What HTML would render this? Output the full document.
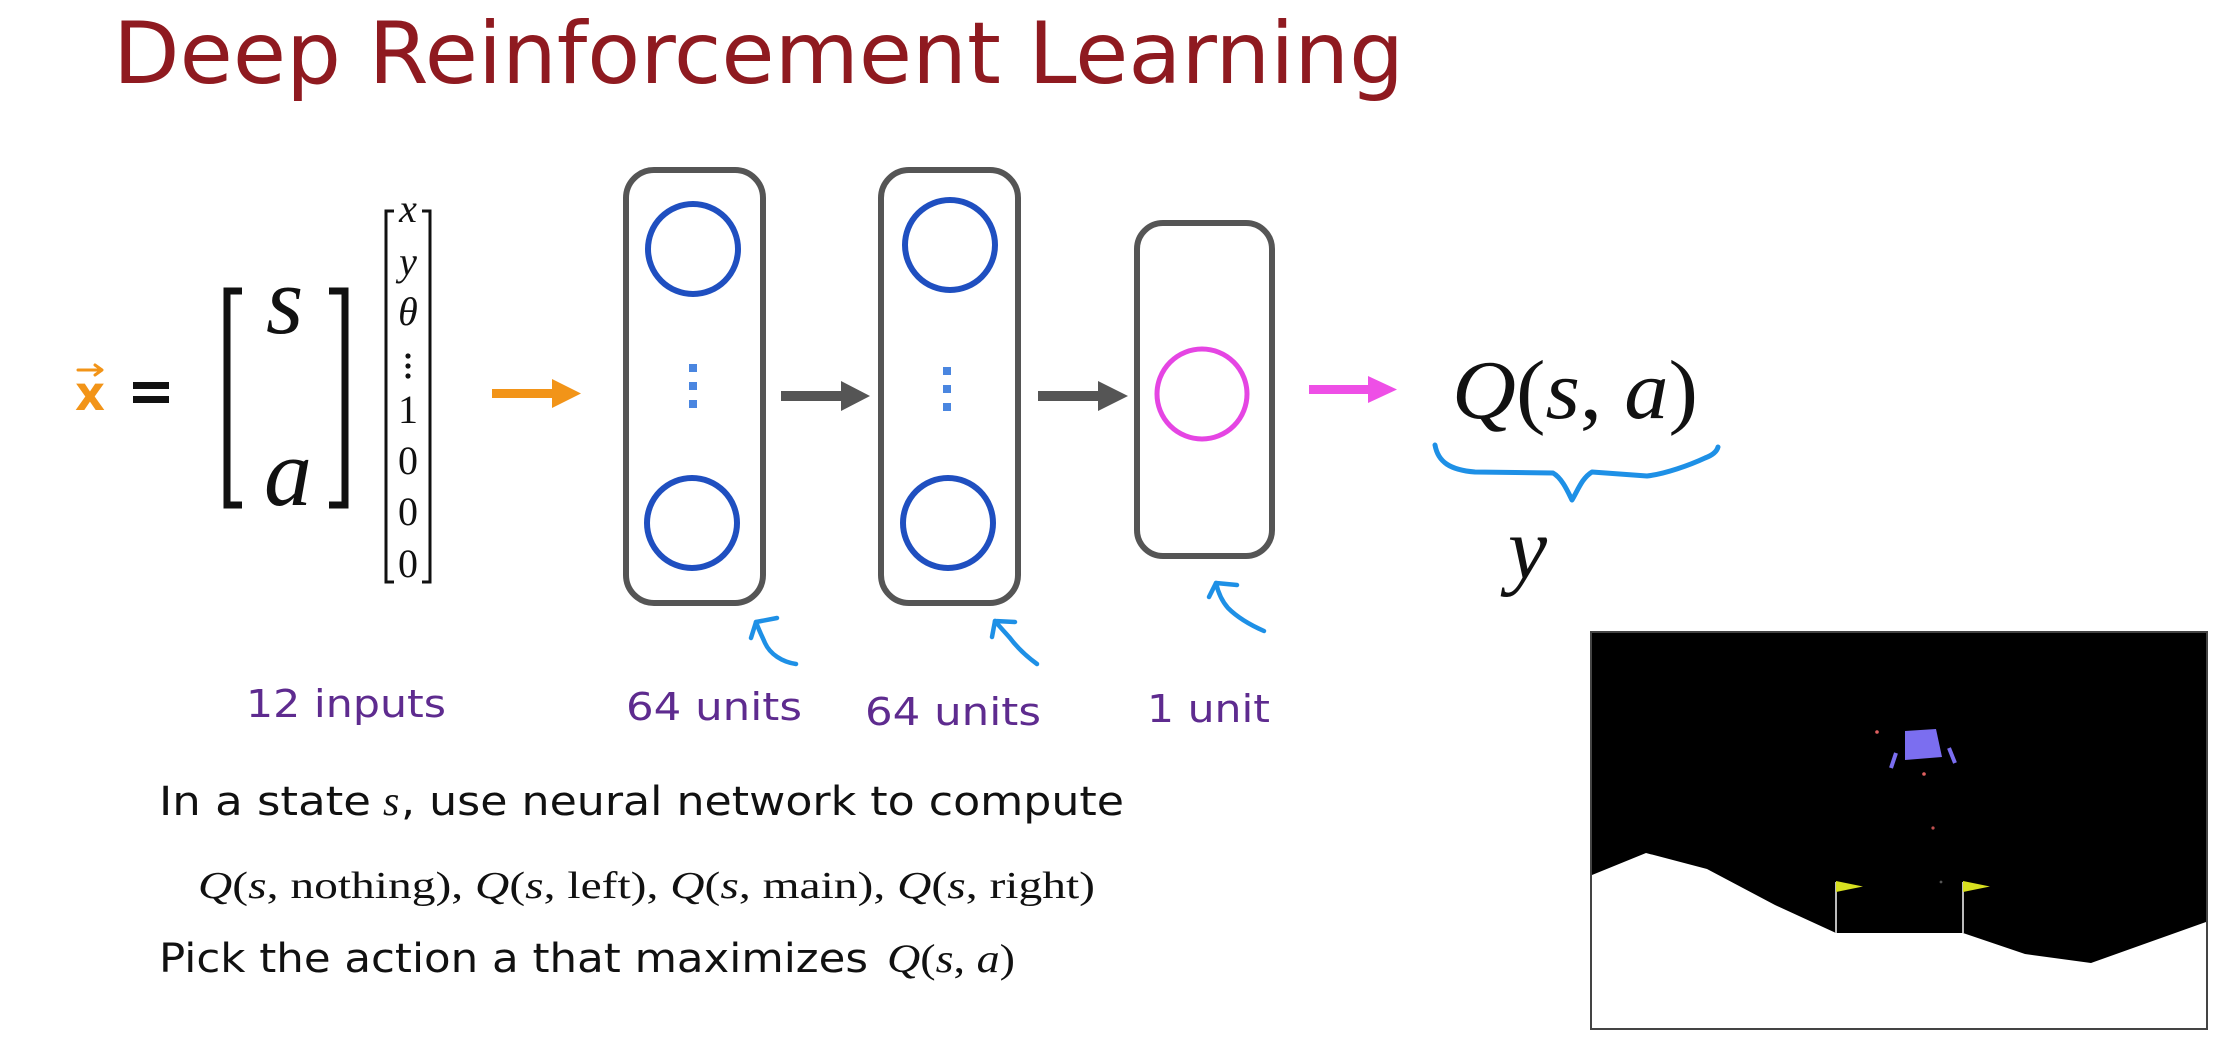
<!DOCTYPE html>
<html><head><meta charset="utf-8"><style>
html,body{margin:0;padding:0;background:#fff;}
svg{display:block;}
</style></head><body>
<svg width="2240" height="1037" viewBox="0 0 2240 1037" xmlns="http://www.w3.org/2000/svg">
<rect width="2240" height="1037" fill="#fff"/>
<!-- Title -->
<text x="113" y="83" font-family="'DejaVu Sans', 'Liberation Sans', sans-serif" font-size="86" fill="#8f1a20" textLength="1291" lengthAdjust="spacingAndGlyphs">Deep Reinforcement Learning</text>

<!-- x vector -->
<text x="75" y="410" font-family="'DejaVu Sans', sans-serif" font-weight="bold" font-size="48" fill="#f29418" textLength="30" lengthAdjust="spacingAndGlyphs">x</text>
<path d="M78,370 L101,370 M95,365 L102,370 L95,375" stroke="#f29418" stroke-width="3" fill="none" stroke-linecap="round" stroke-linejoin="round"/>
<!-- equals -->
<rect x="133" y="382" width="36" height="7" fill="#111"/>
<rect x="133" y="396" width="36" height="7" fill="#111"/>

<!-- big bracket -->
<path d="M242,291 L227,291 L227,505 L242,505" stroke="#111" stroke-width="7" fill="none"/>
<path d="M329,291 L345,291 L345,505 L329,505" stroke="#111" stroke-width="7" fill="none"/>
<text x="266" y="333" font-family="'Liberation Serif', serif" font-style="italic" font-size="96" fill="#111">s</text>
<text x="264" y="505" font-family="'Liberation Serif', serif" font-style="italic" font-size="96" fill="#111">a</text>

<!-- column vector -->
<path d="M394,211 L386,211 L386,582 L394,582" stroke="#111" stroke-width="3" fill="none"/>
<path d="M422,211 L430,211 L430,582 L422,582" stroke="#111" stroke-width="3" fill="none"/>
<g font-family="'Liberation Serif', serif" font-size="40" fill="#111" text-anchor="middle">
<text x="408" y="222" font-style="italic">x</text>
<text x="408" y="275" font-style="italic">y</text>
<text x="408" y="325" font-style="italic">θ</text>
<text x="408" y="423">1</text>
<text x="408" y="474">0</text>
<text x="408" y="525">0</text>
<text x="408" y="577">0</text>
</g>
<circle cx="408" cy="356" r="2.6" fill="#111"/>
<circle cx="408" cy="366" r="2.6" fill="#111"/>
<circle cx="408" cy="376" r="2.6" fill="#111"/>

<!-- orange arrow -->
<rect x="492" y="389" width="64" height="9" fill="#f29418"/>
<polygon points="552,379 581,393.5 552,408" fill="#f29418"/>

<!-- box 1 -->
<rect x="626" y="170" width="137" height="433" rx="28" ry="28" fill="none" stroke="#555" stroke-width="6"/>
<circle cx="693" cy="249" r="45" fill="none" stroke="#1f4fc0" stroke-width="6"/>
<circle cx="692" cy="523" r="45" fill="none" stroke="#1f4fc0" stroke-width="6"/>
<rect x="689" y="364" width="8" height="8" fill="#4a86e0"/>
<rect x="689" y="382" width="8" height="8" fill="#4a86e0"/>
<rect x="689" y="400" width="8" height="8" fill="#4a86e0"/>

<!-- gray arrow 1 -->
<rect x="781" y="391" width="64" height="10" fill="#555"/>
<polygon points="841,381 870,396 841,411" fill="#555"/>

<!-- box 2 -->
<rect x="881" y="170" width="137" height="433" rx="28" ry="28" fill="none" stroke="#555" stroke-width="6"/>
<circle cx="950" cy="245" r="45" fill="none" stroke="#1f4fc0" stroke-width="6"/>
<circle cx="948" cy="523" r="45" fill="none" stroke="#1f4fc0" stroke-width="6"/>
<rect x="943" y="367" width="8" height="8" fill="#4a86e0"/>
<rect x="943" y="385" width="8" height="8" fill="#4a86e0"/>
<rect x="943" y="403" width="8" height="8" fill="#4a86e0"/>

<!-- gray arrow 2 -->
<rect x="1038" y="391" width="64" height="10" fill="#555"/>
<polygon points="1098,381 1128,396 1098,411" fill="#555"/>

<!-- box 3 -->
<rect x="1137" y="223" width="135" height="333" rx="26" ry="26" fill="none" stroke="#555" stroke-width="6"/>
<circle cx="1202" cy="394" r="45" fill="none" stroke="#e545e3" stroke-width="5"/>

<!-- magenta arrow -->
<rect x="1309" y="385" width="63" height="9" fill="#ee4fe6"/>
<polygon points="1368,376 1397,389.5 1368,403" fill="#ee4fe6"/>

<!-- Q(s,a) -->
<text x="1452" y="418" font-family="'Liberation Serif', serif" font-size="84" fill="#111" textLength="246" lengthAdjust="spacingAndGlyphs"><tspan font-style="italic">Q</tspan>(<tspan font-style="italic">s</tspan>, <tspan font-style="italic">a</tspan>)</text>
<path d="M1435,445 C1438,462 1450,470 1475,472 L1553,473 C1562,478 1568,492 1572,500 C1578,490 1582,478 1592,472 L1647,476 C1665,474 1690,465 1705,458 C1713,455 1717,451 1718,447" fill="none" stroke="#1e90e6" stroke-width="5" stroke-linecap="round" stroke-linejoin="round"/>
<text x="1508" y="578" font-family="'Liberation Serif', serif" font-style="italic" font-size="88" fill="#111">y</text>

<!-- blue hand arrows -->
<g fill="none" stroke="#1e90e6" stroke-width="4.5" stroke-linecap="round" stroke-linejoin="round">
<path d="M796,664 C782,662 770,654 765,643 C761,634 758,628 756,622"/>
<path d="M756,622 L777,618 M756,622 L751,638"/>
<path d="M1037,664 C1026,656 1016,646 1010,638 C1003,630 999,626 995,621"/>
<path d="M995,621 L1015,622 M995,621 L992,637"/>
<path d="M1264,631 C1248,624 1236,616 1228,608 C1221,600 1218,592 1216,583"/>
<path d="M1216,583 L1237,585 M1216,583 L1209,597"/>
</g>

<!-- purple labels -->
<g font-family="'DejaVu Sans', 'Liberation Sans', sans-serif" font-size="38" fill="#5e2b8f">
<text x="246" y="717" textLength="200" lengthAdjust="spacingAndGlyphs">12 inputs</text>
<text x="626" y="720" textLength="176" lengthAdjust="spacingAndGlyphs">64 units</text>
<text x="865" y="725" textLength="176" lengthAdjust="spacingAndGlyphs">64 units</text>
<text x="1147" y="722" textLength="123" lengthAdjust="spacingAndGlyphs">1 unit</text>
</g>

<!-- bottom text -->
<g fill="#111">
<text x="159" y="815" font-family="'DejaVu Sans', 'Liberation Sans', sans-serif" font-size="40" textLength="212" lengthAdjust="spacingAndGlyphs">In a state</text>
<text x="383" y="815" font-family="'Liberation Serif', serif" font-style="italic" font-size="42">s</text>
<text x="401" y="815" font-family="'DejaVu Sans', 'Liberation Sans', sans-serif" font-size="40" textLength="723" lengthAdjust="spacingAndGlyphs">, use neural network to compute</text>

<text x="198" y="898" font-family="'Liberation Serif', serif" font-size="38" textLength="897" lengthAdjust="spacingAndGlyphs"><tspan font-style="italic">Q</tspan>(<tspan font-style="italic">s</tspan>, nothing), <tspan font-style="italic">Q</tspan>(<tspan font-style="italic">s</tspan>, left), <tspan font-style="italic">Q</tspan>(<tspan font-style="italic">s</tspan>, main), <tspan font-style="italic">Q</tspan>(<tspan font-style="italic">s</tspan>, right)</text>

<text x="159" y="972" font-family="'DejaVu Sans', 'Liberation Sans', sans-serif" font-size="40" textLength="709" lengthAdjust="spacingAndGlyphs">Pick the action a that maximizes</text>
<text x="887" y="972" font-family="'Liberation Serif', serif" font-size="40" textLength="128" lengthAdjust="spacingAndGlyphs"><tspan font-style="italic">Q</tspan>(<tspan font-style="italic">s</tspan>, <tspan font-style="italic">a</tspan>)</text>
</g>

<!-- lunar lander -->
<rect x="1591" y="632" width="616" height="397" fill="#000" stroke="#444" stroke-width="2"/>
<polygon points="1592,875 1646,853 1707,869 1775,905 1836,933 1963,933 2025,954 2091,963 2206,922 2206,1028 1592,1028" fill="#fff"/>
<line x1="1836" y1="882" x2="1836" y2="933" stroke="#bbb" stroke-width="2"/>
<line x1="1963" y1="882" x2="1963" y2="933" stroke="#bbb" stroke-width="2"/>
<polygon points="1836,881 1863,886.5 1836,892" fill="#d8e020"/>
<polygon points="1963,881 1990,886.5 1963,892" fill="#d8e020"/>
<polygon points="1905,731 1936,729 1942,757 1905,760" fill="#7b6ef0"/>
<line x1="1896" y1="753" x2="1891" y2="768" stroke="#7b6ef0" stroke-width="4"/>
<line x1="1949" y1="748" x2="1955" y2="763" stroke="#7b6ef0" stroke-width="4"/>
<circle cx="1877" cy="732" r="1.8" fill="#e06060"/>
<circle cx="1924" cy="774" r="1.8" fill="#e06060"/>
<circle cx="1933" cy="828" r="1.6" fill="#c05050"/>
<circle cx="1941" cy="882" r="1.4" fill="#555"/>
</svg>
</body></html>
